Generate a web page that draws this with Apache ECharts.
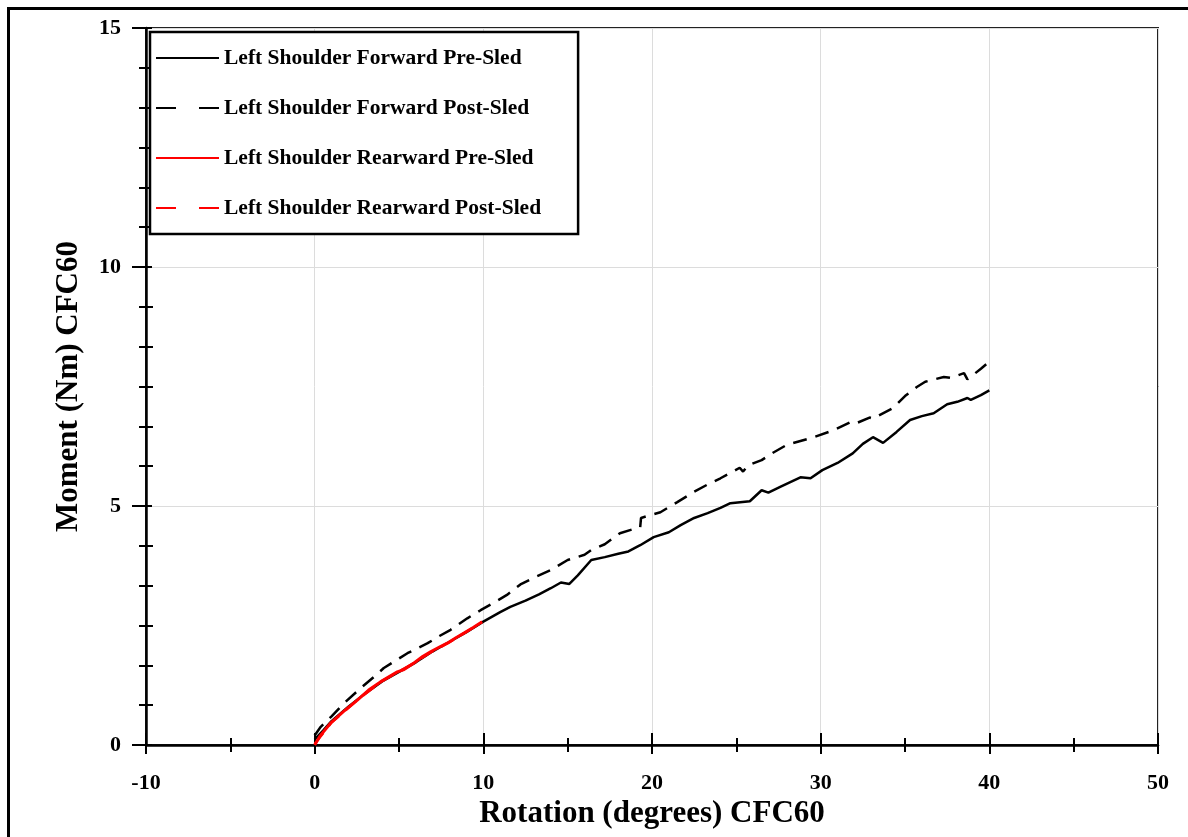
<!DOCTYPE html>
<html>
<head>
<meta charset="utf-8">
<script src="https://cdn.jsdelivr.net/npm/echarts@6/dist/echarts.min.js"></script>
<style>
html,body{margin:0;padding:0;background:#fff;}
#chart{width:1188px;height:837px;}
</style>
</head>
<body>
<div id="chart"></div>
<script>
// ---- data ----
const X_TICKS = [-10, 0, 10, 20, 30, 40, 50];
const Y_TICKS = [0, 5, 10, 15];
const X_NAME = 'Rotation (degrees) CFC60';
const Y_NAME = 'Moment (Nm) CFC60';
const SERIES_NAMES = [
  'Left Shoulder Forward Pre-Sled',
  'Left Shoulder Forward Post-Sled',
  'Left Shoulder Rearward Pre-Sled',
  'Left Shoulder Rearward Post-Sled'
];
const fwdPre = [
  [0,0.12],[0.5,0.3],[1,0.5],[2,0.8],[3,1.08],[4,1.33],[5,1.53],[6,1.73],[7,1.96],[8,2.16],
  [9,2.36],[10,2.58],[11,2.78],[11.6,2.89],[12.5,3.02],[13.3,3.15],[14,3.28],[14.6,3.4],[15.1,3.37],
  [15.6,3.55],[16.4,3.87],[17.2,3.93],[18,4.0],[18.6,4.05],[19.3,4.18],[20.1,4.35],[21,4.45],
  [21.7,4.6],[22.5,4.75],[23.3,4.85],[24.06,4.96],[24.65,5.06],[25.8,5.1],[26.5,5.33],[26.9,5.28],
  [27.6,5.4],[28.8,5.6],[29.4,5.58],[30.1,5.75],[31,5.9],[31.9,6.1],[32.5,6.3],[33.1,6.44],
  [33.7,6.32],[34.5,6.55],[35.3,6.8],[36,6.88],[36.7,6.94],[37.5,7.13],[38.1,7.18],[38.7,7.26],
  [38.9,7.22],[39.5,7.32],[40,7.42]
];
const fwdPost = [
  [0,0.2],[0.36,0.38],[1,0.6],[1.73,0.87],[2.73,1.19],[3.5,1.42],[4.1,1.61],[5.5,1.92],[6.7,2.13],
  [7.4,2.28],[8.06,2.41],[9.05,2.65],[9.84,2.82],[10.6,2.97],[11.4,3.14],[12.2,3.36],[13,3.5],
  [14,3.66],[15,3.87],[16,3.98],[16.4,4.08],[17.2,4.2],[18.1,4.43],[19.3,4.56],[19.35,4.75],
  [20.5,4.87],[21.5,5.08],[22.5,5.3],[23.3,5.45],[24.06,5.58],[25.2,5.8],[25.4,5.72],[25.7,5.85],
  [26.5,5.96],[27.2,6.12],[28,6.28],[28.8,6.36],[29.6,6.44],[30.8,6.59],[31.8,6.76],[32.1,6.73],
  [32.9,6.85],[33.1,6.83],[34.3,7.05],[35,7.3],[35.7,7.49],[36.2,7.6],[37.3,7.7],[37.7,7.68],
  [38.5,7.78],[38.7,7.65],[39.5,7.87],[40,8.02]
];
const rearPre = [
  [0,0],[0.3,0.18],[0.95,0.46],[1.7,0.7],[2.53,0.94],[3.2,1.15],[3.9,1.32],[4.9,1.53],[5.3,1.58],
  [5.87,1.71],[6.4,1.85],[6.87,1.95],[7.4,2.05],[7.86,2.13],[8.4,2.25],[8.85,2.34],[9.4,2.46],[9.93,2.58]
];
const rearPost = [
  [0,0.02],[1,0.47],[2.5,0.93],[4,1.34],[5,1.54],[6,1.74],[7,1.96],[8,2.15],[9,2.37],[9.9,2.57]
];

// ---- chart ----
const FONT = 'Liberation Serif';
const chart = echarts.init(document.getElementById('chart'), null, {renderer: 'canvas'});
const xMin = X_TICKS[0], xMax = X_TICKS[X_TICKS.length - 1], xInt = X_TICKS[1] - X_TICKS[0];
const yMin = Y_TICKS[0], yMax = Y_TICKS[Y_TICKS.length - 1], yInt = Y_TICKS[1] - Y_TICKS[0];
const BLK = '#000';
const dashed = [20, 23];
const hideSym = {opacity: 0};

chart.setOption({
  animation: false,
  backgroundColor: '#fff',
  graphic: [{
    type: 'rect', shape: {x: 8.5, y: 8.5, width: 1300, height: 1000},
    style: {fill: 'none', stroke: '#000', lineWidth: 3}, silent: true, z: 100
  }],
  grid: {left: 146, top: 28, right: 30, bottom: 92, show: true,
         borderColor: '#222', borderWidth: 2, backgroundColor: 'transparent'},
  legend: {
    orient: 'vertical', left: 150, top: 32,
    backgroundColor: '#fff', borderColor: '#000', borderWidth: 2.5,
    padding: [15, 37, 15, 5],
    itemWidth: 63, itemHeight: 14, itemGap: 28,
    itemStyle: hideSym,
    textStyle: {fontFamily: FONT, fontWeight: 'bold', fontSize: 21.5, color: '#000', lineHeight: 22},
    data: [
      {name: SERIES_NAMES[0], itemStyle: hideSym},
      {name: SERIES_NAMES[1], itemStyle: hideSym, lineStyle: {type: dashed}},
      {name: SERIES_NAMES[2], itemStyle: hideSym},
      {name: SERIES_NAMES[3], itemStyle: hideSym, lineStyle: {type: dashed}}
    ]
  },
  xAxis: [{
    type: 'value', min: xMin, max: xMax, interval: xInt, position: 'bottom',
    name: X_NAME, nameLocation: 'middle', nameGap: 49,
    nameTextStyle: {fontFamily: FONT, fontWeight: 'bold', fontSize: 31, color: '#000'},
    axisLine: {show: true, onZero: false, lineStyle: {color: BLK, width: 2.5}},
    axisTick: {show: true, inside: false, length: 9, lineStyle: {color: BLK, width: 2}},
    minorTick: {show: true, splitNumber: 2, length: 7, lineStyle: {color: BLK, width: 2}},
    axisLabel: {margin: 27, fontFamily: FONT, fontWeight: 'bold', fontSize: 22, color: '#000'},
    splitLine: {show: true, lineStyle: {color: '#dcdcdc', width: 1}}
  }, {
    type: 'value', min: xMin, max: xMax, interval: xInt, position: 'bottom', offset: 0,
    axisLine: {show: false, onZero: false},
    axisTick: {show: true, inside: true, length: 12, lineStyle: {color: BLK, width: 2}},
    minorTick: {show: true, splitNumber: 2, length: 7, lineStyle: {color: BLK, width: 2}},
    axisLabel: {show: false}, splitLine: {show: false}
  }],
  yAxis: [{
    type: 'value', min: yMin, max: yMax, interval: yInt, position: 'left',
    name: Y_NAME, nameLocation: 'middle', nameGap: 62,
    nameTextStyle: {fontFamily: FONT, fontWeight: 'bold', fontSize: 31, color: '#000'},
    axisLine: {show: true, onZero: false, lineStyle: {color: BLK, width: 2.5}},
    axisTick: {show: true, inside: false, length: 14, lineStyle: {color: BLK, width: 2}},
    minorTick: {show: true, splitNumber: 6, length: 7, lineStyle: {color: BLK, width: 2}},
    axisLabel: {margin: 25, fontFamily: FONT, fontWeight: 'bold', fontSize: 22, color: '#000'},
    splitLine: {show: true, lineStyle: {color: '#dcdcdc', width: 1}}
  }, {
    type: 'value', min: yMin, max: yMax, interval: yInt, position: 'left', offset: 0,
    axisLine: {show: false, onZero: false},
    axisTick: {show: true, inside: true, length: 6, lineStyle: {color: BLK, width: 2}},
    minorTick: {show: true, splitNumber: 6, length: 7, lineStyle: {color: BLK, width: 2}},
    axisLabel: {show: false}, splitLine: {show: false}
  }],
  series: [
    {name: SERIES_NAMES[1], type: 'line', data: fwdPost, symbol: 'none', z: 2,
     lineStyle: {color: '#000', width: 2.5, type: [14, 9]}, itemStyle: {color: '#000'}},
    {name: SERIES_NAMES[0], type: 'line', data: fwdPre, symbol: 'none', z: 3,
     lineStyle: {color: '#000', width: 2.5}, itemStyle: {color: '#000'}},
    {name: SERIES_NAMES[3], type: 'line', data: rearPost, symbol: 'none', z: 4,
     lineStyle: {color: '#ff0000', width: 2.5, type: [14, 9]}, itemStyle: {color: '#ff0000'}},
    {name: SERIES_NAMES[2], type: 'line', data: rearPre, symbol: 'none', z: 5,
     lineStyle: {color: '#ff0000', width: 3}, itemStyle: {color: '#ff0000'}}
  ]
});
</script>
</body>
</html>
